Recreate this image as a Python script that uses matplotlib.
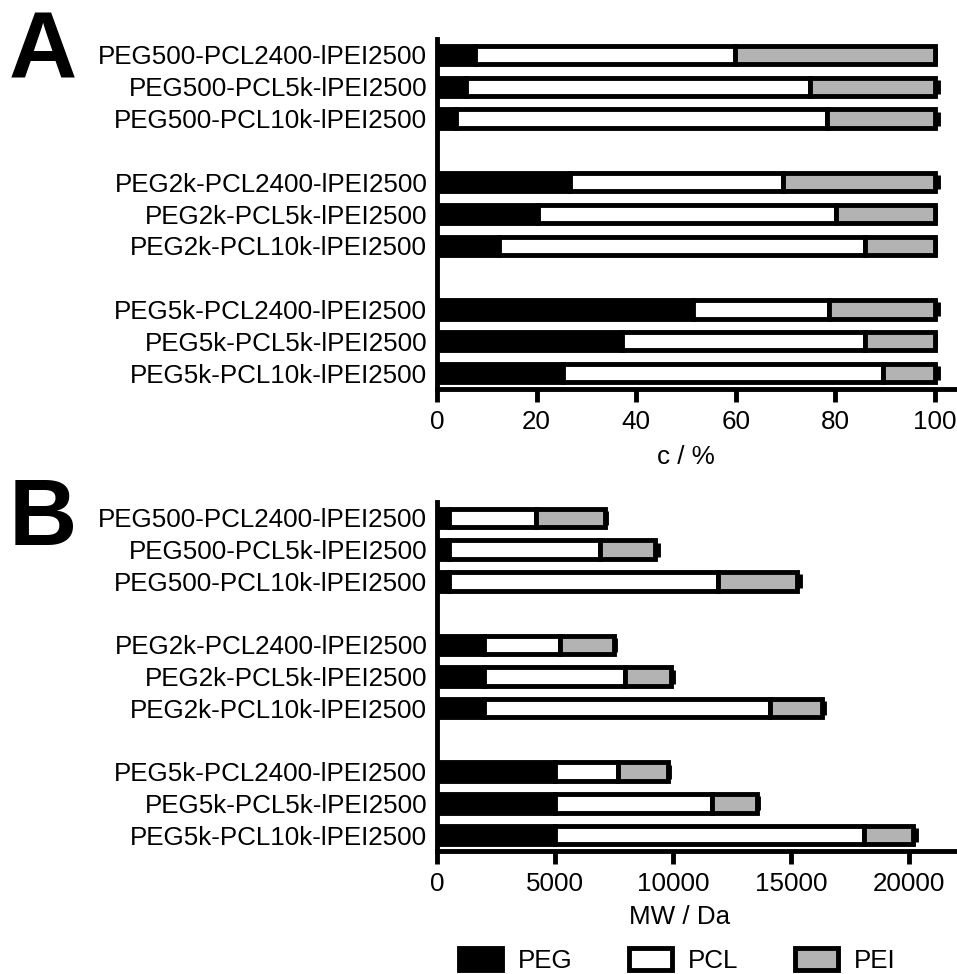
import matplotlib.pyplot as plt
from matplotlib.patches import Patch

plt.rcParams['font.family'] = ['Liberation Sans', 'DejaVu Sans']

labels = ['PEG500-PCL2400-lPEI2500', 'PEG500-PCL5k-lPEI2500', 'PEG500-PCL10k-lPEI2500',
          'PEG2k-PCL2400-lPEI2500', 'PEG2k-PCL5k-lPEI2500', 'PEG2k-PCL10k-lPEI2500',
          'PEG5k-PCL2400-lPEI2500', 'PEG5k-PCL5k-lPEI2500', 'PEG5k-PCL10k-lPEI2500']

# panel A: composition in %
peg_pct = [7.6, 5.8, 3.8, 26.7, 20.3, 12.5, 51.4, 37.1, 25.3]
pcl_pct = [52.2, 69.1, 74.5, 42.8, 59.8, 73.4, 27.3, 48.8, 64.3]
pei_pct = [40.2, 25.1, 21.7, 30.5, 19.9, 14.1, 21.3, 14.1, 10.4]
err_pct = [0.0, 0.6, 0.6, 0.5, 0.0, 0.0, 0.6, 0.0, 0.6]

# panel B: molecular weight in Da
peg_mw = [500, 500, 500, 2000, 2000, 2000, 5000, 5000, 5000]
pcl_mw = [3700, 6400, 11400, 3200, 5950, 12100, 2650, 6650, 13100]
pei_mw = [2900, 2350, 3350, 2300, 1980, 2230, 2120, 1900, 2070]
err_mw = [60, 120, 140, 60, 60, 60, 60, 60, 120]

# 3 groups of 3, one empty slot between groups
ypos = [g * 4 + i for g in range(3) for i in range(3)]

FS = 18.7
LW = 3.5
GREY = '#b3b3b3'

fig = plt.figure(figsize=(9.57, 9.74), dpi=100)
axA = fig.add_axes([437/957, 1-389/974, 520/957, 350/974])
axB = fig.add_axes([437/957, 1-851/974, 520/957, 349/974])


def stacked(ax, a, b, c, err, xmax, ticks, xlabel, xlab_x, xlab_y):
    left_b = [x for x in a]
    left_c = [x + y for x, y in zip(a, b)]
    total = [x + y + z for x, y, z in zip(a, b, c)]
    ax.errorbar(total, ypos, xerr=err, fmt='none', ecolor='k', elinewidth=LW,
                capsize=5, capthick=LW, zorder=1)
    kw = dict(height=0.58, edgecolor='k', linewidth=LW, zorder=2)
    ax.barh(ypos, a, color='k', **kw)
    ax.barh(ypos, b, left=left_b, color='white', **kw)
    ax.barh(ypos, c, left=left_c, color=GREY, **kw)
    ax.set_ylim(10.5, -0.5)
    ax.set_xlim(0, xmax)
    ax.set_yticks(ypos)
    ax.set_yticklabels(labels, fontsize=FS)
    ax.set_xticks(ticks)
    ax.set_xticklabels([str(t) for t in ticks], fontsize=FS)
    ax.tick_params(axis='y', length=0, pad=7)
    ax.tick_params(axis='x', length=9, width=LW, pad=6)
    for s in ['top', 'right']:
        ax.spines[s].set_visible(False)
    for s in ['left', 'bottom']:
        ax.spines[s].set_linewidth(LW)
    ax.set_xlabel(xlabel, fontsize=FS)
    ax.xaxis.set_label_coords(xlab_x, xlab_y)


stacked(axA, peg_pct, pcl_pct, pei_pct, err_pct, 104.4, [0, 20, 40, 60, 80, 100],
        'c / %', 50/104.4, -0.16)
stacked(axB, peg_mw, pcl_mw, pei_mw, err_mw, 22030, [0, 5000, 10000, 15000, 20000],
        'MW / Da', 0.467, -0.155)

fig.text(9/957, 1-78/974, 'A', fontsize=68, fontweight='bold')
fig.text(9/957, 1-545/974, 'B', fontsize=68, fontweight='bold')

handles = [Patch(facecolor='k', edgecolor='k', linewidth=LW),
           Patch(facecolor='white', edgecolor='k', linewidth=LW),
           Patch(facecolor=GREY, edgecolor='k', linewidth=LW)]
fig.legend(handles, ['PEG', 'PCL', 'PEI'], ncol=3, frameon=False, fontsize=FS,
           loc='lower left', bbox_to_anchor=(446/957, -12/974), borderpad=0,
           handlelength=1.65, handleheight=0.9, handletextpad=0.6, columnspacing=2.2)

fig.savefig('out.png', dpi=100)
